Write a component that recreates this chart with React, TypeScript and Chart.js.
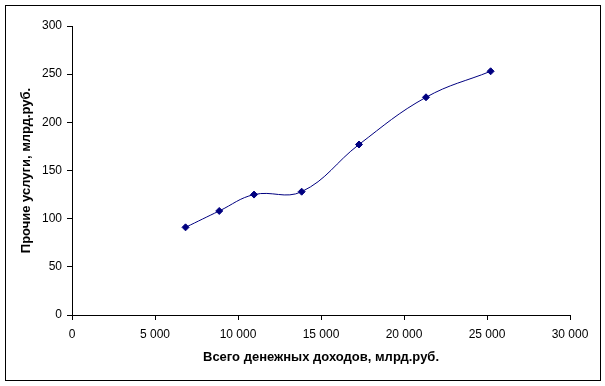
import React, { useEffect, useRef } from "react";
import { Chart, registerables } from "chart.js";

Chart.register(...registerables);

const incomeX = [6840, 8870, 10965, 13835, 17290, 21325, 25220];
const servicesY = [91, 108, 125, 128, 177, 226, 253];
const xTitle = "Всего денежных доходов, млрд.руб.";
const yTitle = "Прочие услуги, млрд.руб.";

const fmt = (v: number) => String(v).replace(/\B(?=(\d{3})+(?!\d))/g, " ");

const framePlugin = {
  id: "frame",
  afterDraw(chart: any) {
    const ctx = chart.ctx;
    ctx.save();
    ctx.strokeStyle = "#000";
    ctx.lineWidth = 1;
    ctx.strokeRect(5.5, 5.5, 595, 375);
    ctx.restore();
  },
};

export default function App() {
  const ref = useRef<HTMLCanvasElement>(null);
  useEffect(() => {
    document.body.style.margin = "0";
    const font = { family: "'Liberation Sans', Arial, sans-serif", size: 12 };
    const titleFont = { family: "'Liberation Sans', Arial, sans-serif", size: 13, weight: "bold" };
    const chart = new Chart(ref.current!, {
      type: "line",
      data: {
        datasets: [
          {
            data: incomeX.map((x, i) => ({ x, y: servicesY[i] })),
            borderColor: "#000080",
            backgroundColor: "#000080",
            borderWidth: 1,
            pointStyle: "rectRot",
            pointRadius: 3.5,
            pointBorderWidth: 1,
            tension: 0.4,
            fill: false,
          },
        ],
      },
      options: {
        animation: false,
        responsive: false,
        layout: { padding: { left: 0, right: 35, top: 26, bottom: 0 } },
        plugins: { legend: { display: false }, tooltip: { enabled: false } },
        scales: {
          x: {
            type: "linear",
            min: 0,
            max: 30000,
            ticks: { stepSize: 5000, color: "#000", font, padding: 7, callback: (v: any) => fmt(v) },
            grid: { drawOnChartArea: false, tickLength: 5, color: "#000" },
            border: { color: "#000" },
            title: {
              display: true,
              text: xTitle,
              color: "#000",
              font: titleFont,
              padding: { top: 0, bottom: 21 },
            },
            afterFit: (s: any) => {
              s.height = 71;
            },
          },
          y: {
            min: 0,
            max: 300,
            ticks: { stepSize: 50, color: "#000", font, padding: 5 },
            grid: { drawOnChartArea: false, tickLength: 5, color: "#000" },
            border: { color: "#000" },
            title: {
              display: true,
              text: yTitle,
              color: "#000",
              font: titleFont,
              padding: { top: 19, bottom: 0 },
            },
            afterFit: (s: any) => {
              s.width = 72;
            },
          },
        },
      },
      plugins: [framePlugin],
    } as any);
    return () => chart.destroy();
  }, []);
  return (
    <div style={{ width: 605, height: 386, background: "#fff" }}>
      <canvas ref={ref} width={605} height={386} style={{ display: "block" }} />
    </div>
  );
}
